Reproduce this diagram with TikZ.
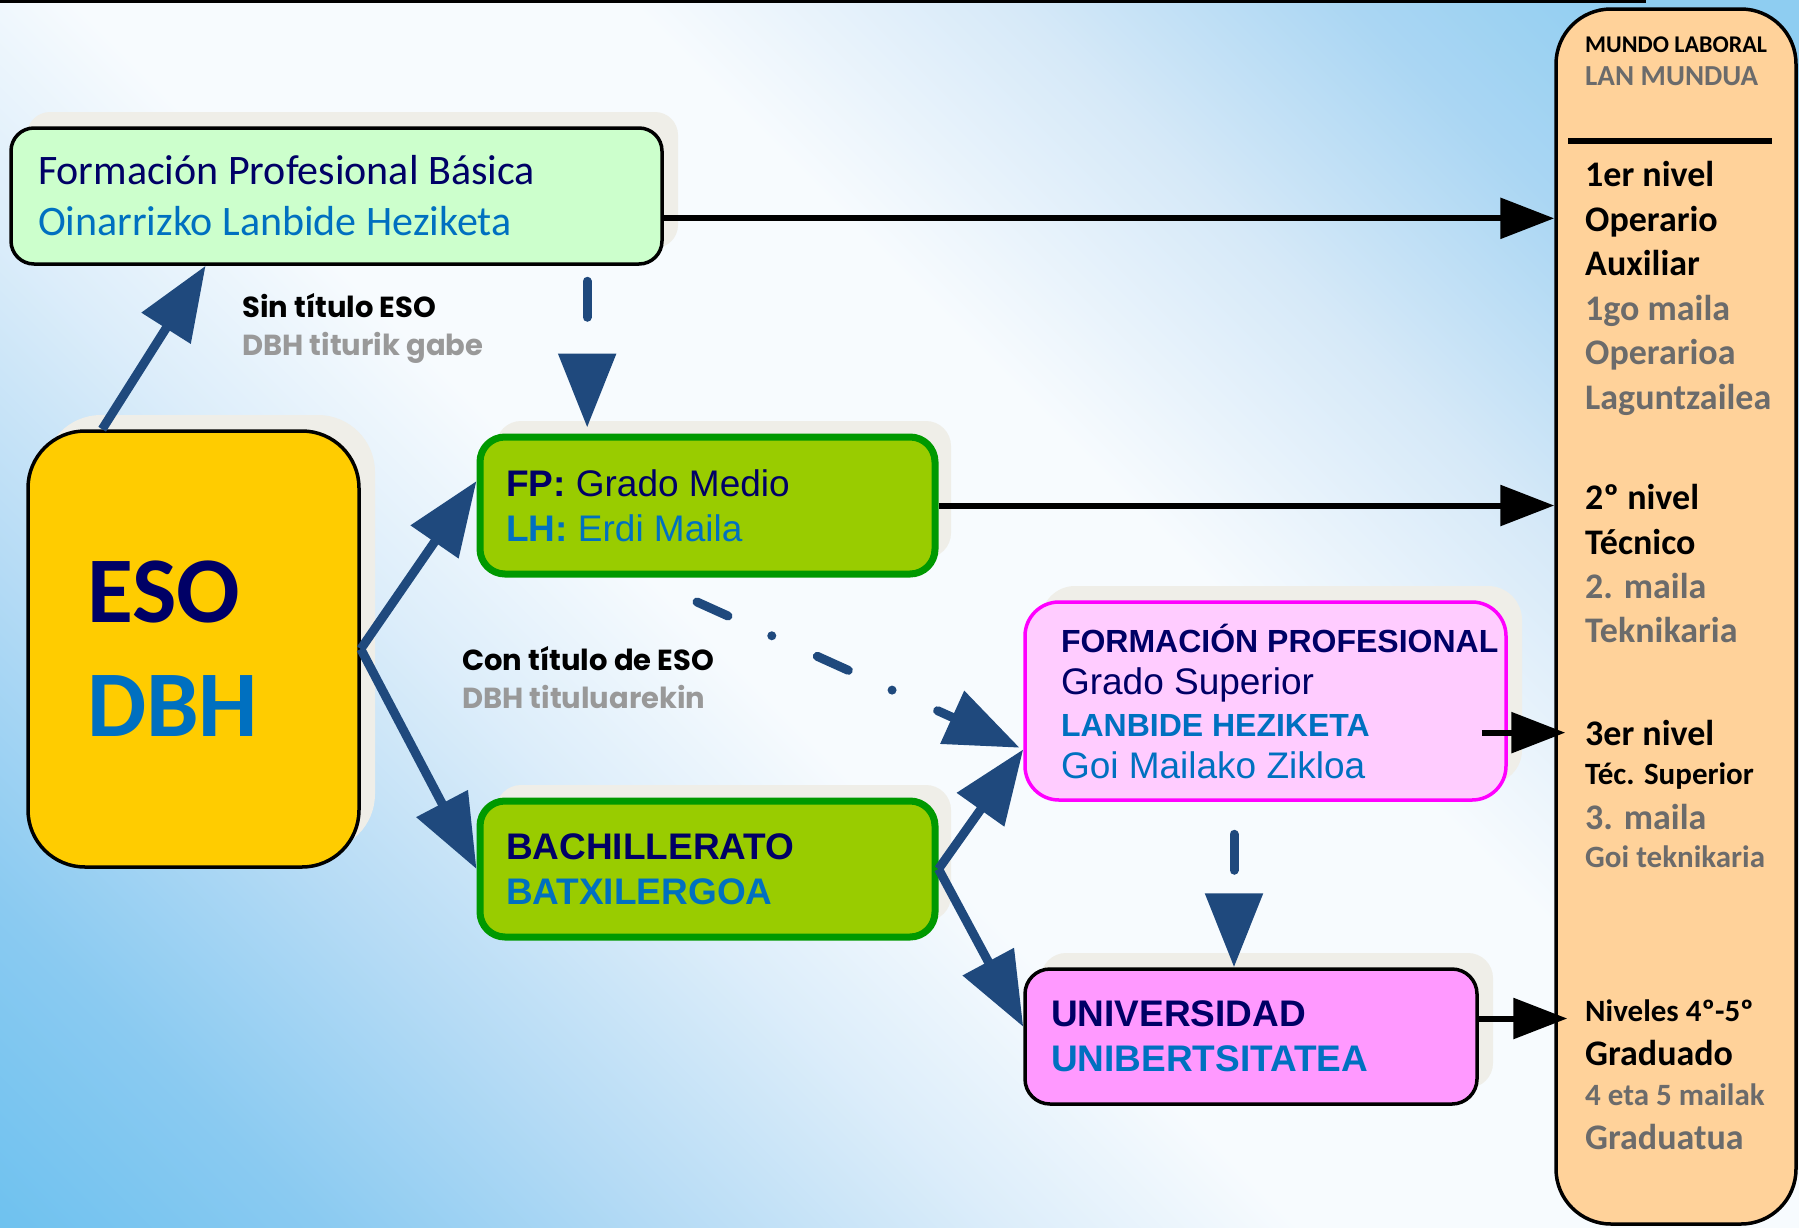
\documentclass[tikz,border=0pt]{standalone}
\usepackage{fontspec}
\setmainfont{Carlito}
\newfontfamily\arialfont{Liberation Sans}
\newfontfamily\gothicfont{Poppins}
\usepackage{tikz}
\usetikzlibrary{arrows.meta,calc,shadows}

\definecolor{navytxt}{HTML}{000066}
\definecolor{bluetxt}{HTML}{0070C0}
\definecolor{labelgray}{HTML}{999999}
\definecolor{mundogray}{HTML}{6B6B6B}
\definecolor{flowblue}{HTML}{1F497D}
\definecolor{esofill}{HTML}{FFCC00}
\definecolor{fpbfill}{HTML}{CCFFCC}
\definecolor{fpmfill}{HTML}{99CC00}
\definecolor{fpmline}{HTML}{009900}
\definecolor{fpsfill}{HTML}{FFCCFF}
\definecolor{fpsline}{HTML}{FF00FF}
\definecolor{unifill}{HTML}{FF99FF}
\definecolor{mundofill}{HTML}{FFD29A}
\definecolor{liftgray}{HTML}{EFEEE8}
\definecolor{bgdeep}{HTML}{6DC1EF}
\definecolor{bgsky}{HTML}{8ACAF1}
\definecolor{bgsoft}{HTML}{B5DBF5}
\definecolor{bgpale}{HTML}{DCEDFA}
\definecolor{bgwhite}{HTML}{F7FBFE}
\definecolor{bgtint}{HTML}{D6E9F8}
\definecolor{bgrise}{HTML}{AAD6F3}
\definecolor{bgtop}{HTML}{8ECDF1}

\pgfdeclarehorizontalshading{skyback}{100bp}{color(0bp)=(bgdeep); color(14bp)=(bgdeep);
  color(22bp)=(bgsky); color(30bp)=(bgsoft); color(38bp)=(bgpale); color(45bp)=(bgwhite);
  color(58bp)=(bgwhite); color(67bp)=(bgtint); color(75bp)=(bgrise); color(82bp)=(bgtop);
  color(100bp)=(bgtop)}

\begin{document}
\begin{tikzpicture}[x=1pt, y=-1pt,
            box/.style = {draw, line width=3.5pt, align=flush left, inner ysep=0pt},
            lift/.style = {general shadow={fill=liftgray, shadow xshift=16pt, shadow yshift=16pt}},
            flow/.style = {draw=flowblue, line width=9pt, -{Triangle[length=74pt,width=56pt]}},
            flowdash/.style = {flow, line cap=round, dash pattern=on 36pt off 90pt},
            lead/.style = {draw=black, line width=6pt, -{Triangle[length=54pt,width=40pt]}},
            rung/.style = {anchor=base west, inner sep=0pt},
            remark/.style = {anchor=base west, inner sep=0pt,
                             font=\gothicfont\bfseries\fontsize{29}{29}\selectfont}]
    \useasboundingbox (0,0) rectangle (1799,1227);
    \shade[shading=skyback, shading angle=45] (0,0) rectangle (1799,1227);
    \draw[line width=3pt] (0,1.5) -- (1646,1.5);

    \node[box, lift, fill=fpbfill, rounded corners=23pt, minimum width=651pt, minimum height=136pt,
          inner xsep=27pt, text width=597pt, font=\fontsize{42}{51}\selectfont] (fpb) at (336.5,196)
          {\textcolor{navytxt}{Formación Profesional Básica}\\\textcolor{bluetxt}{Oinarrizko Lanbide Heziketa}};
    \node[box, lift, fill=esofill, rounded corners=57pt, minimum width=331pt, minimum height=436pt,
          inner xsep=59pt, text width=213pt, font=\bfseries\fontsize{94}{114}\selectfont] (eso) at (193.5,649)
          {\textcolor{navytxt}{ESO}\\\textcolor{bluetxt}{DBH}};
    \node[box, lift, draw=fpmline, line width=7pt, fill=fpmfill, rounded corners=25pt, minimum width=455pt,
          minimum height=137pt, inner xsep=26pt, text width=403pt,
          font=\arialfont\fontsize{37}{45}\selectfont] (fpm) at (707.5,505.5)
          {\textcolor{navytxt}{\textbf{FP:} Grado Medio}\\\textcolor{bluetxt}{\textbf{LH:} Erdi Maila}};
    \node[box, lift, draw=fpmline, line width=7pt, fill=fpmfill, rounded corners=25pt, minimum width=455pt,
          minimum height=136pt, inner xsep=26pt, text width=403pt,
          font=\arialfont\bfseries\fontsize{37}{45}\selectfont] (bach) at (707.5,869)
          {\textcolor{navytxt}{BACHILLERATO}\\\textcolor{bluetxt}{BATXILERGOA}};
    \node[box, lift, draw=fpsline, fill=fpsfill, rounded corners=34pt, minimum width=481pt,
          minimum height=198pt, inner xsep=36pt, text width=409pt,
          font=\arialfont\fontsize{37}{42}\selectfont] (fps) at (1265.5,701)
          {\textcolor{navytxt}{\bfseries\fontsize{32}{42}\selectfont\mbox{FORMACIÓN PROFESIONAL}}\\
           \textcolor{navytxt}{Grado Superior}\\
           \textcolor{bluetxt}{\bfseries\fontsize{32}{42}\selectfont LANBIDE HEZIKETA}\\
           \textcolor{bluetxt}{Goi Mailako Zikloa}};
    \node[box, lift, fill=unifill, rounded corners=25pt, minimum width=452pt, minimum height=135pt,
          inner xsep=26pt, text width=400pt, font=\arialfont\bfseries\fontsize{37}{45}\selectfont] (uni)
          at (1251,1036.5) {\textcolor{navytxt}{UNIVERSIDAD}\\\textcolor{bluetxt}{UNIBERTSITATEA}};
    \node[box, fill=mundofill, rounded corners=55pt, minimum width=240pt, minimum height=1215pt] (mundo)
          at (1676,616.5) {};

    \draw[line width=6pt] ($(mundo.north west)+(14,134)$) -- ($(mundo.north west)+(218,134)$);
    \foreach \t/\c/\s/\y [count=\i] in {MUNDO LABORAL/black/24/52, LAN MUNDUA/mundogray/29/85,
            1er nivel/black/36/186, Operario/black/36/231, Auxiliar/black/36/275,
            1go maila/mundogray/36/320, Operarioa/mundogray/36/364, Laguntzailea/mundogray/36/409,
            2º nivel/black/36/509, Técnico/black/36/554, 2. maila/mundogray/36/598,
            Teknikaria/mundogray/36/642, 3er nivel/black/36/745, Téc. Superior/black/31/784,
            3. maila/mundogray/36/829, Goi teknikaria/mundogray/31/867, Niveles 4º-5º/black/31/1021,
            Graduado/black/36/1065, 4 eta 5 mailak/mundogray/31/1105, Graduatua/mundogray/36/1149}
        \node[rung, text=\c, font=\bfseries\fontsize{\s}{\s}\selectfont] (lvl\i) at (1585,\y) {\t};

    \node[remark] (sinlbl) at (242,317) {Sin título ESO};
    \node[remark, text=labelgray] (sinlbleu) at (242,355) {DBH titurik gabe};
    \node[remark] (conlbl) at (462,670) {Con título de ESO};
    \node[remark, text=labelgray] (conlbleu) at (462,708) {DBH tituluarekin};

    \coordinate (fpbdrop) at ($(fpb.south west)!0.883!(fpb.south east)$);
    \coordinate (fpmdrop) at ($(fpm.south west)!0.36!(fpm.south east)$);
    \coordinate (fpsin) at ($(fps.north west)!0.74!(fps.south west)$);
    \coordinate (fpsdrop) at ($(fps.south west)!0.435!(fps.south east)$);
    \coordinate (fpbout) at ($(fpb.north east)!0.66!(fpb.south east)$);
    \coordinate (fpsout) at ($(fps.north east)!0.657!(fps.south east)$);
    \coordinate (uniout) at ($(uni.north east)!0.37!(uni.south east)$);

    \draw[flow] ($(eso.north west)!0.227!(eso.north east)$) -- ($(fpb.south west)!0.30!(fpb.south east)$);
    \draw[flow] (eso.east) -- ($(fpm.north west)!0.33!(fpm.south west)$);
    \draw[flow] (eso.east) -- (bach.west);
    \draw[flowdash, shorten <=15.5pt, shorten >=6pt] (fpbdrop) -- (fpbdrop |- fpm.north);
    \draw[flow, line cap=round, dash pattern=on 34pt off 48pt on 0pt off 50pt, shorten <=59.5pt,
          shorten >=4pt] (fpmdrop) -- (fpsin);
    \draw[flow] (bach.east) -- (fpsin);
    \draw[flow] (bach.east) -- ($(uni.north west)!0.43!(uni.south west)$);
    \draw[flowdash, shorten <=32.5pt] (fpsdrop) -- (fpsdrop |- uni.north);

    \draw[lead] (fpbout) -- (fpbout -| mundo.west);
    \draw[lead] (fpm.east) -- (fpm.east -| mundo.west);
    \draw[lead, shorten <=-26pt, shorten >=-11pt] (fpsout) -- (fpsout -| mundo.west);
    \draw[lead, shorten >=-13pt] (uniout) -- (uniout -| mundo.west);
\end{tikzpicture}
\end{document}
